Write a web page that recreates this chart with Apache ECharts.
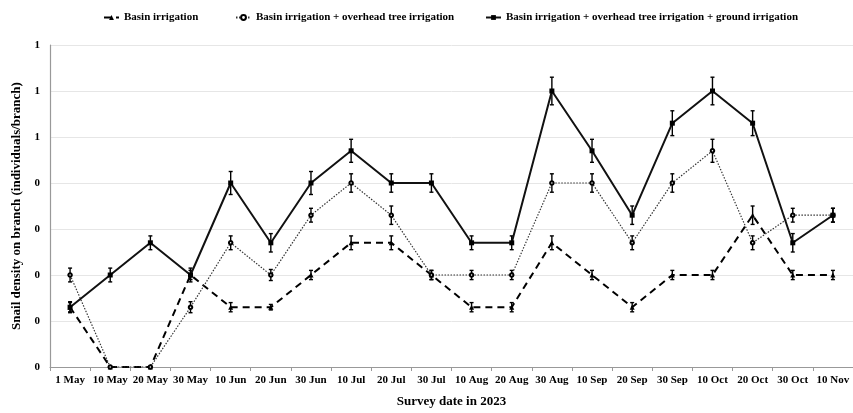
<!DOCTYPE html>
<html>
<head>
<meta charset="utf-8">
<script src="https://cdn.jsdelivr.net/npm/echarts@6/dist/echarts.min.js"></script>
<style>
  html, body { margin: 0; padding: 0; background: #fff; }
  #chart { width: 853px; height: 413px; }
</style>
</head>
<body>
<div id="chart"></div>
<script>
// Survey dates
const dates = ['1 May', '10 May', '20 May', '30 May', '10 Jun', '20 Jun', '30 Jun', '10 Jul', '20 Jul', '30 Jul',
  '10 Aug', '20 Aug', '30 Aug', '10 Sep', '20 Sep', '30 Sep', '10 Oct', '20 Oct', '30 Oct', '10 Nov'];

// Mean snail density per branch
const basin = [0.13, 0, 0, 0.2, 0.13, 0.13, 0.2, 0.27, 0.27, 0.2,
  0.13, 0.13, 0.27, 0.2, 0.13, 0.2, 0.2, 0.33, 0.2, 0.2];
const basinTree = [0.2, 0, 0, 0.13, 0.27, 0.2, 0.33, 0.4, 0.33, 0.2,
  0.2, 0.2, 0.4, 0.4, 0.27, 0.4, 0.47, 0.27, 0.33, 0.33];
const basinTreeGround = [0.13, 0.2, 0.27, 0.2, 0.4, 0.27, 0.4, 0.47, 0.4, 0.4,
  0.27, 0.27, 0.6, 0.47, 0.33, 0.53, 0.6, 0.53, 0.27, 0.33];

// Standard errors
const basinErr = [0.01, 0, 0, 0.01, 0.01, 0.006, 0.01, 0.015, 0.015, 0.01,
  0.01, 0.01, 0.015, 0.01, 0.01, 0.01, 0.01, 0.02, 0.01, 0.01];
const basinTreeErr = [0.015, 0, 0, 0.012, 0.015, 0.012, 0.015, 0.02, 0.02, 0.01,
  0.01, 0.01, 0.02, 0.02, 0.015, 0.02, 0.025, 0.015, 0.015, 0.015];
const basinTreeGroundErr = [0.012, 0.015, 0.015, 0.015, 0.025, 0.02, 0.025, 0.025, 0.02, 0.02,
  0.015, 0.015, 0.03, 0.025, 0.02, 0.027, 0.03, 0.027, 0.02, 0.015];

const names = ['Basin irrigation', 'Basin irrigation + overhead tree irrigation',
  'Basin irrigation + overhead tree irrigation + ground irrigation'];

// y tick values
const yMin = 0, yMax = 0.7, yStep = 0.1;

const serif = '"Liberation Serif", "Times New Roman", serif';

function errorSeries(values, errs) {
  return {
    type: 'custom',
    silent: true,
    z: 3,
    data: values.map((v, i) => [i, v - errs[i], v + errs[i]]),
    renderItem: function (params, api) {
      const x = api.value(0);
      const lo = api.coord([x, api.value(1)]);
      const hi = api.coord([x, api.value(2)]);
      const cap = 2;
      const st = { stroke: '#000', lineWidth: 1.4 };
      return {
        type: 'group',
        children: [
          { type: 'line', shape: { x1: lo[0], y1: lo[1], x2: hi[0], y2: hi[1] }, style: st },
          { type: 'line', shape: { x1: hi[0] - cap, y1: hi[1], x2: hi[0] + cap, y2: hi[1] }, style: st },
          { type: 'line', shape: { x1: lo[0] - cap, y1: lo[1], x2: lo[0] + cap, y2: lo[1] }, style: st }
        ]
      };
    }
  };
}

// one legend block per series so each entry sits at its own spot
const legendLefts = [98, 230, 480];
const legends = names.map((n, i) => ({
  top: 7,
  left: legendLefts[i],
  itemWidth: 15,
  itemHeight: 6,
  textStyle: { fontFamily: serif, fontWeight: 'bold', fontSize: 11, color: '#000' },
  data: [n]
}));

const chart = echarts.init(document.getElementById('chart'), null, { renderer: 'canvas' });
chart.setOption({
  animation: false,
  backgroundColor: '#fff',
  textStyle: { fontFamily: serif },
  legend: legends,
  grid: { left: 50, right: -6, top: 45, bottom: 44 },
  xAxis: {
    type: 'category',
    data: dates,
    boundaryGap: true,
    name: 'Survey date in 2023',
    nameLocation: 'middle',
    nameGap: 28,
    nameTextStyle: { fontFamily: serif, fontWeight: 'bold', fontSize: 13, color: '#000' },
    axisLine: { lineStyle: { color: '#999', width: 1.2 } },
    axisTick: { show: true, length: 4, lineStyle: { color: '#999' } },
    axisLabel: { fontFamily: serif, fontWeight: 'bold', fontSize: 11, color: '#000', margin: 8, interval: 0 }
  },
  yAxis: {
    type: 'value',
    min: yMin,
    max: yMax,
    interval: yStep,
    name: 'Snail density on branch (individuals/branch)',
    nameLocation: 'middle',
    nameGap: 26,
    nameTextStyle: { fontFamily: serif, fontWeight: 'bold', fontSize: 13, color: '#000' },
    axisLine: { show: true, lineStyle: { color: '#999', width: 1.2 } },
    axisTick: { show: false },
    splitLine: { show: true, lineStyle: { color: '#e6e6e6', width: 1 } },
    axisLabel: {
      fontFamily: serif, fontWeight: 'bold', fontSize: 11, color: '#000', margin: 10,
      formatter: function (v) { return String(Math.round(v)); }
    }
  },
  series: [
    {
      name: names[0],
      type: 'line',
      data: basin,
      z: 4,
      symbol: 'triangle',
      symbolSize: 5,
      itemStyle: { color: '#000' },
      lineStyle: { color: '#000', width: 2, type: [7, 5] }
    },
    {
      name: names[1],
      type: 'line',
      data: basinTree,
      z: 4,
      symbol: 'emptyCircle',
      symbolSize: 3.5,
      itemStyle: { color: '#000', borderColor: '#000', borderWidth: 1 },
      lineStyle: { color: '#333', width: 1.2, type: [1.5, 1.5] }
    },
    {
      name: names[2],
      type: 'line',
      data: basinTreeGround,
      z: 4,
      symbol: 'rect',
      symbolSize: 5,
      itemStyle: { color: '#000' },
      lineStyle: { color: '#111', width: 2 }
    },
    errorSeries(basin, basinErr),
    errorSeries(basinTree, basinTreeErr),
    errorSeries(basinTreeGround, basinTreeGroundErr)
  ]
});
</script>
</body>
</html>
